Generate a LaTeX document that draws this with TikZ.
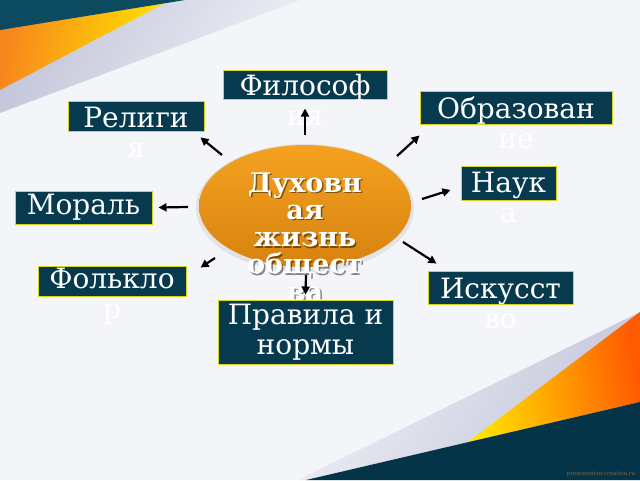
\documentclass[tikz,border=0pt]{standalone}
\usepackage{fontspec}
\setmainfont{DejaVu Serif}
\usetikzlibrary{shapes.geometric,arrows.meta}
\definecolor{bgc}{HTML}{F3F5F9}
\definecolor{tealdark}{HTML}{053348}
\definecolor{tealtop}{HTML}{0B4A5F}
\definecolor{boxfill}{HTML}{073A4E}
\definecolor{boxline}{HTML}{D4D81C}
\definecolor{lavdark}{HTML}{C3C6DA}
\definecolor{lavlight}{HTML}{EDEFF5}
\definecolor{yel}{HTML}{FFE300}
\definecolor{org}{HTML}{F7861C}
\definecolor{orgred}{HTML}{FF5A00}
\definecolor{elltop}{HTML}{F5A222}
\definecolor{ellbot}{HTML}{D6820E}
\definecolor{wmark}{HTML}{7B6B45}
\begin{document}
\begin{tikzpicture}[x=1pt,y=-1pt,
  box/.style={draw=boxline, fill=boxfill, line width=1pt, inner sep=0pt},
  boxtext/.style={text=white, align=center, inner sep=0pt, font=\fontsize{28}{30}\selectfont},
  elltext/.style={align=center, inner sep=0pt, font=\bfseries\fontsize{27}{27.3}\selectfont},
  arr/.style={-{Triangle[length=8pt,width=8pt]}, line width=2.2pt, black}]
\useasboundingbox (0,0) rectangle (640,480);
\fill[bgc] (0,0) rectangle (640,480);
% top-left decoration
\shade[left color=lavdark, right color=lavlight, shading angle=60] (0,0) -- (300,0) -- (0,113) -- cycle;
\shade[left color=org, right color=yel, shading angle=80] (0,28) -- (165,3) -- (0,90) -- cycle;
\fill[tealtop] (0,0) -- (185,0) -- (0,30) -- cycle;
% bottom-right decoration
\shade[left color=lavdark, right color=lavlight, shading angle=240] (298,480) -- (640,312) -- (640,402) -- (306,480) -- cycle;
\shade[left color=yel, right color=orgred, shading angle=100] (468,442) -- (640,312) -- (640,402) -- cycle;
\fill[tealdark] (306,480) -- (640,402) -- (640,480) -- cycle;
\node[font=\fontsize{5.5}{6}\selectfont, text=wmark, inner sep=0pt] (wm) at (601,474) {presentation-creation.ru};
% central ellipse
\fill[gray, opacity=0.15] (305,208) ellipse [x radius=109, y radius=64];
\node[ellipse, top color=elltop, bottom color=ellbot, minimum width=212pt, minimum height=122pt, inner sep=0pt] (ell) at (305,206) {};
\node[elltext, text=black, opacity=0.45] at (306.5,238.5) {Духовн\\ая\\жизнь\\общест\\ва};
\node[elltext, text=white] (ellt) at (305,237) {Духовн\\ая\\жизнь\\общест\\ва};
% boxes
\node[box, minimum width=164pt, minimum height=29pt] (fil) at (305,84.5) {};
\node[boxtext] (filt) at (305,100) {Философ\\ия};
\node[box, minimum width=192pt, minimum height=33pt] (obr) at (516,107.5) {};
\node[boxtext] (obrt) at (516,122.5) {Образован\\ие};
\node[box, minimum width=136pt, minimum height=30pt] (rel) at (136,116) {};
\node[boxtext] (relt) at (136,132) {Религи\\я};
\node[box, minimum width=95pt, minimum height=34pt] (nau) at (508.5,183) {};
\node[boxtext] (naut) at (508.5,197.5) {Наук\\а};
\node[box, minimum width=137pt, minimum height=33pt] (mor) at (83.5,207.5) {};
\node[boxtext] (mort) at (83.5,207.5) {Мораль};
\node[box, minimum width=148pt, minimum height=30pt] (fol) at (112,281) {};
\node[boxtext] (folt) at (112,296) {Фолькло\\р};
\node[box, minimum width=145pt, minimum height=33pt] (isk) at (500.5,287.5) {};
\node[boxtext] (iskt) at (500.5,303) {Искусст\\во};
\node[box, minimum width=175pt, minimum height=64pt] (pra) at (305.5,332) {};
\node[boxtext] (prat) at (305.5,332.5) {Правила и\\нормы};
% arrows
\draw[arr] ([shift={(0,-71)}]ell.center) -- ([shift={(0,9)}]fil.south);
\draw[arr] ([shift={(-83,-51)}]ell.center) -- ([shift={(-4,6)}]rel.south east);
\draw[arr] ([shift={(92,-50)}]ell.center) -- ([shift={(0,11)}]obr.south west);
\draw[arr] ([shift={(117,-7)}]ell.center) -- ([shift={(-10,7)}]nau.west);
\draw[arr] ([shift={(-117,1)}]ell.center) -- ([shift={(6,0)}]mor.east);
\draw[arr] ([shift={(-90,52)}]ell.center) -- ([shift={(14,2)}]fol.north east);
\draw[arr] ([shift={(98,36)}]ell.center) -- ([shift={(9,-7)}]isk.north west);
\draw[arr] ([shift={(1,69)}]ell.center) -- ([shift={(0,-5)}]pra.north);
\end{tikzpicture}
\end{document}
